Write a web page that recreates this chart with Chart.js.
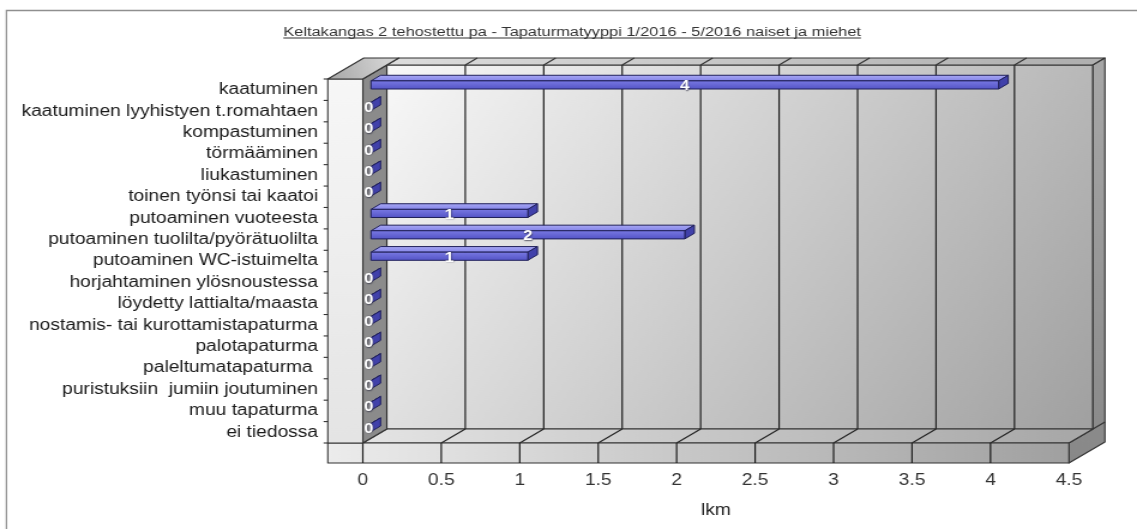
<!DOCTYPE html>
<html>
<head>
<meta charset="utf-8">
<script src="https://cdn.jsdelivr.net/npm/chart.js@4.4.1/dist/chart.umd.min.js"></script>
<style>
  html, body { margin: 0; padding: 0; background: #ffffff; overflow: hidden; }
  /* the drawing is laid out on a narrower canvas and widened to the page */
  #wrap { position: absolute; left: 0; top: 0; width: 948px; height: 529px;
          transform: scaleX(1.19937); transform-origin: 0 0; }
</style>
</head>
<body>
<div id="wrap"><canvas id="c" width="948" height="529"></canvas></div>
<script>
const chartTitle = 'Keltakangas 2 tehostettu pa - Tapaturmatyyppi 1/2016 - 5/2016 naiset ja miehet';
const axisTitle = 'lkm';

const categories = [
  'kaatuminen',
  'kaatuminen lyyhistyen t.romahtaen',
  'kompastuminen',
  'törmääminen',
  'liukastuminen',
  'toinen työnsi tai kaatoi',
  'putoaminen vuoteesta',
  'putoaminen tuolilta/pyörätuolilta',
  'putoaminen WC-istuimelta',
  'horjahtaminen ylösnoustessa',
  'löydetty lattialta/maasta',
  'nostamis- tai kurottamistapaturma',
  'palotapaturma',
  'paleltumatapaturma ',
  'puristuksiin  jumiin joutuminen',
  'muu tapaturma',
  'ei tiedossa'
];

const counts = [4, 0, 0, 0, 0, 0, 1, 2, 1, 0, 0, 0, 0, 0, 0, 0, 0];

const xTickValues = [0, 0.5, 1, 1.5, 2, 2.5, 3, 3.5, 4, 4.5];

const FONT = '"Liberation Sans", Arial, sans-serif';
Chart.defaults.font.family = FONT;

// oblique depth: one unit of depth moves a point by (DX, DY)
const DX = 20, DY = -14;
const WALL_BACK = 1.5;      // back face of the rear wall
const BAND_W = 29.2;        // thickness of the left wall block
const FLOOR_H = 20;         // thickness of the floor block
const BAR_T0 = 0.34, BAR_T1 = 0.74;
const EDGE = '#333333';

function poly(ctx, pts, fill, stroke) {
  ctx.beginPath();
  ctx.moveTo(pts[0][0], pts[0][1]);
  for (let i = 1; i < pts.length; i++) ctx.lineTo(pts[i][0], pts[i][1]);
  ctx.closePath();
  if (fill) { ctx.fillStyle = fill; ctx.fill(); }
  if (stroke) { ctx.strokeStyle = stroke; ctx.stroke(); }
}
function line(ctx, x0, y0, x1, y1) {
  ctx.beginPath(); ctx.moveTo(x0, y0); ctx.lineTo(x1, y1); ctx.stroke();
}
function lin(ctx, x0, y0, x1, y1, c0, c1) {
  const g = ctx.createLinearGradient(x0, y0, x1, y1);
  g.addColorStop(0, c0); g.addColorStop(1, c1);
  return g;
}

const box3d = {
  id: 'box3d',
  beforeDraw(chart) {
    const ctx = chart.ctx;
    ctx.save();
    // outer frame
    ctx.strokeStyle = '#8f8f8f';
    ctx.lineWidth = 1.3;
    ctx.beginPath();
    ctx.moveTo(5.4, chart.height + 5); ctx.lineTo(5.4, 10.5); ctx.lineTo(chart.width + 5, 10.5);
    ctx.stroke();
    // underlined title
    ctx.font = '13.7px ' + FONT;
    ctx.fillStyle = '#333333';
    ctx.textAlign = 'center';
    ctx.textBaseline = 'alphabetic';
    const tx = 477, ty = 36;
    ctx.fillText(chartTitle, tx, ty);
    const w = ctx.measureText(chartTitle).width;
    ctx.fillRect(tx - w / 2, ty + 1.5, w, 1);
    ctx.restore();
  },
  beforeDatasetsDraw(chart) {
    const { ctx, chartArea: a, scales: { x: xs } } = chart;
    const L = a.left, R = a.right, T = a.top, B = a.bottom;
    const bandL = L - BAND_W, floorB = B + FLOOR_H;
    const P = (x, y, t) => [x + DX * t, y + DY * t];
    const inner = xTickValues.slice(1, -1).map(v => xs.getPixelForValue(v));
    const allX = xTickValues.map(v => xs.getPixelForValue(v));
    ctx.save();
    ctx.lineWidth = 1.1;
    ctx.lineJoin = 'round';

    // rear wall
    poly(ctx, [P(L, T, 1), P(R, T, 1), P(R, B, 1), P(L, B, 1)],
      lin(ctx, L + DX, T + DY, R + DX, B + DY, '#f8f8f8', '#a0a0a0'), EDGE);
    ctx.strokeStyle = '#1e1e1e';
    ctx.lineWidth = 1.2;
    inner.forEach(X => line(ctx, X + DX, T + DY, X + DX, B + DY));
    ctx.lineWidth = 1.1;

    // top of rear wall
    poly(ctx, [P(L, T, 1), P(R, T, 1), P(R, T, WALL_BACK), P(L, T, WALL_BACK)],
      lin(ctx, L, T, R, T, '#dedede', '#b0b0b0'), EDGE);
    ctx.strokeStyle = '#333';
    inner.forEach(X => { const p = P(X, T, 1), q = P(X, T, WALL_BACK); line(ctx, p[0], p[1], q[0], q[1]); });

    // right side
    poly(ctx, [[R, B], P(R, B, 1), P(R, T, 1), P(R, T, WALL_BACK), P(R, floorB, WALL_BACK), [R, floorB]],
      lin(ctx, R, T, R, floorB, '#a6a6a6', '#888888'), EDGE);
    ctx.strokeStyle = EDGE;
    { const p = P(R, B, 1), q = P(R, B, WALL_BACK); line(ctx, p[0], p[1], q[0], q[1]); }

    // floor top
    poly(ctx, [P(L, B, 0), P(R, B, 0), P(R, B, 1), P(L, B, 1)],
      lin(ctx, L, B, R, B, '#e4e4e4', '#a8a8a8'), EDGE);
    ctx.strokeStyle = '#222';
    inner.forEach(X => line(ctx, X, B, X + DX, B + DY));

    // floor front
    poly(ctx, [[bandL, B], [R, B], [R, floorB], [bandL, floorB]],
      lin(ctx, bandL, B, R, floorB, '#ececec', '#a0a0a0'), EDGE);
    ctx.strokeStyle = '#1a1a1a';
    ctx.lineWidth = 1.2;
    allX.slice(0, -1).forEach(X => line(ctx, X, B, X, floorB));
    ctx.lineWidth = 1.1;

    // left wall inner face
    poly(ctx, [P(L, T, 0), P(L, T, 1), P(L, B, 1), P(L, B, 0)], '#8b8b8b', EDGE);

    // left wall front
    poly(ctx, [[bandL, T], [L, T], [L, B], [bandL, B]],
      lin(ctx, bandL, T, L, B, '#f7f7f7', '#e4e4e4'), EDGE);

    // left wall top
    poly(ctx, [[bandL, T], [L, T], P(L, T, WALL_BACK), P(bandL, T, WALL_BACK)],
      lin(ctx, bandL, T, L + DX, T + DY, '#a6a6a6', '#d2d2d2'), EDGE);

    // category tick marks
    const n = categories.length;
    const step = (B - T) / n;
    ctx.strokeStyle = '#333';
    for (let i = 0; i <= n; i++) line(ctx, bandL - 3.5, T + i * step, bandL, T + i * step);
    ctx.restore();
  },
  afterDatasetsDraw(chart) {
    const ctx = chart.ctx;
    const meta = chart.getDatasetMeta(0);
    const ds = chart.data.datasets[0];
    const ddx = DX * (BAR_T1 - BAR_T0), ddy = DY * (BAR_T1 - BAR_T0);
    ctx.save();
    ctx.lineWidth = 1;
    ctx.lineJoin = 'round';
    const fronts = [];
    meta.data.forEach((bar, i) => {
      const { x, y, base, height } = bar.getProps(['x', 'y', 'base', 'height'], true);
      const x0 = base + DX * BAR_T0, x1 = x + DX * BAR_T0;
      const yT = y - height / 2 + DY * BAR_T0, yB = y + height / 2 + DY * BAR_T0;
      // top face
      poly(ctx, [[x0, yT], [x1, yT], [x1 + ddx, yT + ddy], [x0 + ddx, yT + ddy]],
        lin(ctx, x0, yT + ddy, x0, yT, '#a6a6f4', '#8585e8'), '#20205a');
      // end face
      poly(ctx, [[x1, yT], [x1 + ddx, yT + ddy], [x1 + ddx, yB + ddy], [x1, yB]], '#4141aa', '#20205a');
      // front face
      if (x1 - x0 > 0.5) {
        poly(ctx, [[x0, yT], [x1, yT], [x1, yB], [x0, yB]],
          lin(ctx, x0, yT, x0, yB, '#7878e2', '#5454c6'), '#20205a');
      }
      fronts.push({ cx: (x0 + x1) / 2, cy: (yT + yB) / 2, v: ds.data[i] });
    });
    // value labels
    ctx.font = 'bold 14px ' + FONT;
    ctx.textAlign = 'center';
    ctx.textBaseline = 'middle';
    ctx.shadowColor = 'rgba(40,40,60,0.75)';
    ctx.shadowBlur = 1.5;
    ctx.shadowOffsetX = 0.5;
    ctx.shadowOffsetY = 0.5;
    ctx.fillStyle = '#ffffff';
    fronts.forEach(f => ctx.fillText(String(f.v), f.v === 0 ? f.cx - 2 : f.cx, f.cy + 1.5));
    ctx.restore();
  }
};

new Chart(document.getElementById('c'), {
  type: 'bar',
  data: {
    labels: categories,
    datasets: [{
      data: counts,
      backgroundColor: 'rgba(0,0,0,0)',
      borderWidth: 0,
      categoryPercentage: 1,
      barPercentage: 0.38
    }]
  },
  options: {
    indexAxis: 'y',
    responsive: false,
    devicePixelRatio: 1,
    animation: false,
    layout: { padding: { top: 79, right: 56.75, bottom: 0, left: 0 } },
    plugins: { legend: { display: false }, tooltip: { enabled: false }, title: { display: false } },
    scales: {
      x: {
        type: 'linear',
        min: 0,
        max: 4.5,
        afterBuildTicks(s) { s.ticks = xTickValues.map(v => ({ value: v })); },
        afterFit(s) { s.height = 86; },
        grid: { display: false, drawTicks: false },
        border: { display: false },
        ticks: { padding: 28, color: '#333333', font: { size: 16 }, maxRotation: 0, autoSkip: false,
                 callback: v => String(v) },
        title: { display: true, text: axisTitle, color: '#222222', font: { size: 16 },
                 padding: { top: 0, bottom: 8.4 } }
      },
      y: {
        afterFit(s) { s.width = 302.5; },
        grid: { display: false, drawTicks: false },
        border: { display: false },
        ticks: { padding: 37.3, color: '#1a1a1a', font: { size: 16 }, autoSkip: false }
      }
    }
  },
  plugins: [box3d]
});
</script>
</body>
</html>
